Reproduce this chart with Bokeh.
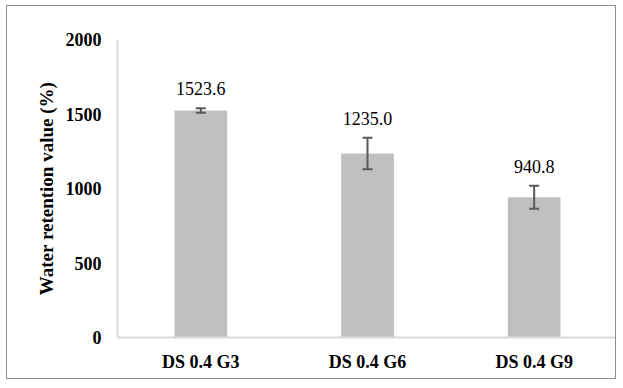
from bokeh.plotting import figure
from bokeh.models import ColumnDataSource, Whisker, TeeHead, LabelSet, Range1d
from bokeh.core.properties import value
from bokeh.embed import file_html
from bokeh.resources import INLINE

categories = ["DS 0.4 G3", "DS 0.4 G6", "DS 0.4 G9"]
values = [1523.6, 1235.0, 940.8]
errors = [15, 106, 77]
labels = ["1523.6", "1235.0", "940.8"]
y_ticks = [0, 500, 1000, 1500, 2000]

upper = [v + e for v, e in zip(values, errors)]
lower = [v - e for v, e in zip(values, errors)]
src = ColumnDataSource(dict(cat=categories, val=values, up=upper, lo=lower, lab=labels))

FONT = "Liberation Serif"

p = figure(x_range=categories, y_range=Range1d(0, 2000),
           width=610, height=374, output_backend="svg", toolbar_location=None,
           min_border_left=110, min_border_right=0, min_border_top=33, min_border_bottom=43)
p.styles = {"margin-left": "6px", "margin-top": "5px", "border": "1px solid #8c8c8c"}
p.x_range.range_padding = 0

p.vbar(x="cat", top="val", width=0.316, source=src, fill_color="#bfbfbf", line_color=None)

w = Whisker(base="cat", upper="up", lower="lo", source=src, level="overlay",
            line_color="#595959", line_width=2,
            upper_head=TeeHead(size=10, line_color="#595959", line_width=2),
            lower_head=TeeHead(size=10, line_color="#595959", line_width=2))
p.add_layout(w)

ls = LabelSet(x="cat", y="up", text="lab", source=src, text_align="center",
              text_baseline="alphabetic", y_offset=13, text_font=value(FONT),
              text_font_size=value("18px"), text_color="black")
p.add_layout(ls)

p.xgrid.visible = False
p.ygrid.visible = False
p.outline_line_color = None

p.yaxis.ticker = y_ticks
p.yaxis.axis_label = "Water retention value (%)"
p.yaxis.axis_label_text_font = FONT
p.yaxis.axis_label_text_font_style = "bold"
p.yaxis.axis_label_text_font_size = "19px"
p.yaxis.axis_label_text_color = "black"
p.yaxis.axis_label_standoff = 6

for ax in (p.xaxis[0], p.yaxis[0]):
    ax.axis_line_color = "#d9d9d9"
    ax.axis_line_width = 2
    ax.major_tick_line_color = None
    ax.minor_tick_line_color = None
    ax.major_label_text_font = FONT
    ax.major_label_text_font_style = "bold"
    ax.major_label_text_font_size = "18px"
    ax.major_label_text_color = "black"

p.yaxis.major_label_standoff = 10
p.xaxis.major_label_standoff = 8

open("out.html", "w").write(file_html(p, INLINE))
